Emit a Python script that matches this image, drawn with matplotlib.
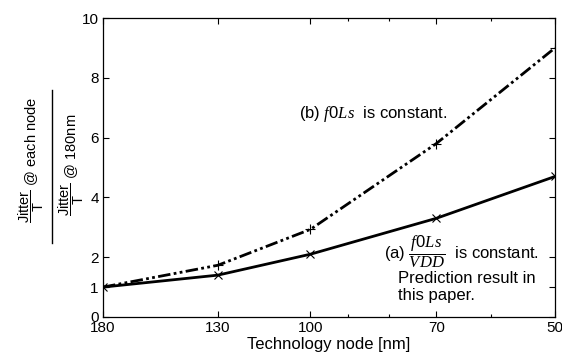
import matplotlib
matplotlib.use('Agg')
import matplotlib.pyplot as plt
from matplotlib.lines import Line2D
from matplotlib.ticker import FixedLocator, FixedFormatter, NullFormatter

# 数据
nodes = [180, 130, 100, 70, 50]
minor_nodes = [90, 80, 60]
ratio_a = [1.0, 1.4, 2.1, 3.3, 4.7]   # (a) f0Ls/VDD 恒定
ratio_b = [1.0, 1.73, 2.93, 5.8, 9.0]  # (b) f0Ls 恒定
yticks = [0, 1, 2, 4, 6, 8, 10]

plt.rcParams['font.family'] = ['Liberation Sans', 'DejaVu Sans']
plt.rcParams['mathtext.fontset'] = 'custom'
plt.rcParams['mathtext.rm'] = 'Liberation Sans'
plt.rcParams['mathtext.sf'] = 'Liberation Sans'
plt.rcParams['mathtext.it'] = 'Liberation Serif:italic'
plt.rcParams['mathtext.bf'] = 'Liberation Sans:bold'

W, H = 562, 361
fig = plt.figure(figsize=(W / 100, H / 100), dpi=100)
ax = fig.add_axes([103 / W, 1 - 317 / H, (555 - 103) / W, (317 - 18) / H])


def fx(px):
    return px / W


def fy(py):
    return 1 - py / H


ax.plot(nodes, ratio_a, color='black', lw=2.0, marker='x', ms=6, mew=0.8)
ax.plot(nodes, ratio_b, color='black', lw=2.0, marker='+', ms=7, mew=0.8,
        dashes=[4.5, 1.2, 1.0, 1.2, 1.0, 1.2])

ax.set_xscale('log')
ax.set_xlim(180, 50)
ax.xaxis.set_major_locator(FixedLocator(nodes))
ax.xaxis.set_major_formatter(FixedFormatter([str(n) for n in nodes]))
ax.xaxis.set_minor_locator(FixedLocator(minor_nodes))
ax.xaxis.set_minor_formatter(NullFormatter())

ax.set_ylim(0, 10)
ax.set_yticks(yticks)

ax.tick_params(which='both', direction='in', top=True, right=True, labelsize=11, pad=3)
ax.tick_params(which='major', length=4, width=0.8)
ax.tick_params(which='minor', length=2.5, width=0.8)
for s in ax.spines.values():
    s.set_linewidth(0.9)

ax.set_xlabel('Technology node [nm]', fontsize=12, labelpad=1)

# 纵轴标签：手工拼出分式
fig.text(fx(31), fy(160), r'$\dfrac{\mathrm{Jitter}}{\mathrm{T}}$ @ each node',
         rotation=90, ha='center', va='center', fontsize=10.5)
fig.text(fx(71), fy(165), r'$\dfrac{\mathrm{Jitter}}{\mathrm{T}}$ @ 180nm',
         rotation=90, ha='center', va='center', fontsize=10.5)
fig.add_artist(Line2D([fx(52), fx(52)], [fy(90), fy(243)], color='black', lw=1.0,
                      transform=fig.transFigure))

ax.text(fx(299), fy(114), r'(b) $\mathit{f0Ls}$  is constant.', fontsize=12,
        ha='left', va='center', transform=fig.transFigure)
ax.text(fx(384), fy(252), r'(a) $\dfrac{\mathit{f0Ls}}{\mathit{VDD}}$  is constant.', fontsize=12,
        ha='left', va='center', transform=fig.transFigure)
ax.text(fx(398), fy(287), 'Prediction result in\nthis paper.', fontsize=12,
        ha='left', va='center', linespacing=1.1, transform=fig.transFigure)

fig.savefig('out.png', dpi=100)
